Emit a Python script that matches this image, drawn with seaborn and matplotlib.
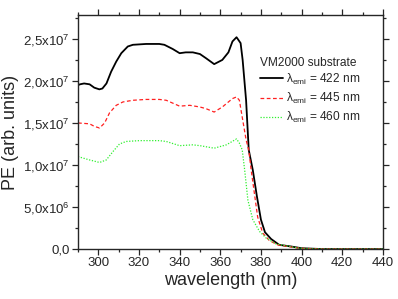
import numpy as np
import pandas as pd
import matplotlib
matplotlib.use("Agg")
import matplotlib.pyplot as plt
import seaborn as sns
from matplotlib.ticker import MultipleLocator, FuncFormatter

# datos (PE en unidades de 1e7)
wl_422 = [290, 291, 293, 295.7, 298, 300.5, 302, 304, 306.3, 308.8, 311.3, 314.5, 317,
          323.5, 330, 332.5, 336.6, 340, 343, 346.5, 350, 353, 357, 361, 364, 366,
          368, 370, 371, 372.7, 374, 376, 378, 380, 382, 385, 389, 395, 400, 410,
          420, 430, 440]
pe_422 = [1.95, 1.96, 1.97, 1.96, 1.92, 1.90, 1.91, 1.97, 2.11, 2.23, 2.33, 2.41, 2.43,
          2.44, 2.44, 2.43, 2.38, 2.33, 2.34, 2.34, 2.32, 2.27, 2.20, 2.25, 2.34, 2.47,
          2.52, 2.45, 2.25, 1.77, 1.18, 0.94, 0.63, 0.35, 0.20, 0.12, 0.05, 0.03, 0.01,
          0.0, 0.0, 0.0, 0.0]

wl_445 = [290, 295.7, 298, 300.6, 303.1, 305.5, 308.8, 312.1, 317, 323.5, 330, 333.4,
          340, 345, 350, 353, 357, 361, 366, 368, 369.4, 371, 372.7, 374, 375.2,
          376.8, 378.4, 380.9, 384.2, 388.3, 399, 410, 420, 430, 440]
pe_445 = [1.50, 1.49, 1.46, 1.44, 1.50, 1.62, 1.71, 1.75, 1.77, 1.78, 1.78, 1.77,
          1.70, 1.71, 1.69, 1.67, 1.63, 1.69, 1.79, 1.81, 1.77, 1.54, 1.30, 1.18, 0.94,
          0.66, 0.38, 0.19, 0.10, 0.05, 0.01, 0.0, 0.0, 0.0, 0.0]

wl_460 = [290, 295.7, 300.6, 303.9, 307.2, 310.4, 313.7, 320.2, 330, 333.4, 340, 346.5,
          350, 357, 363, 368, 369.4, 370.8, 372, 373.6, 376, 379.3, 382.6, 387.5, 399,
          410, 420, 430, 440]
pe_460 = [1.10, 1.06, 1.03, 1.06, 1.16, 1.25, 1.28, 1.29, 1.29, 1.28, 1.23, 1.24,
          1.23, 1.20, 1.24, 1.31, 1.26, 1.18, 0.94, 0.58, 0.35, 0.21, 0.13, 0.06, 0.01,
          0.0, 0.0, 0.0, 0.0]

etiquetas = [r"$\lambda_{\mathregular{emi}}$ = 422 nm",
             r"$\lambda_{\mathregular{emi}}$ = 445 nm",
             r"$\lambda_{\mathregular{emi}}$ = 460 nm"]

sns.set_style("ticks")
plt.rcParams["font.family"] = ["Liberation Sans", "DejaVu Sans"]
plt.rcParams["mathtext.fontset"] = "custom"
plt.rcParams["mathtext.rm"] = "Liberation Sans"
plt.rcParams["mathtext.it"] = "Liberation Sans"
plt.rcParams["mathtext.default"] = "regular"

fig, ax = plt.subplots(figsize=(3.98, 2.99), dpi=100)
fig.subplots_adjust(left=0.196, right=0.962, bottom=0.167, top=0.95)

sns.lineplot(x=wl_422, y=np.array(pe_422) * 1e7, ax=ax, color="black", lw=1.3,
             label=etiquetas[0])
sns.lineplot(x=wl_445, y=np.array(pe_445) * 1e7, ax=ax, color="#ff2020", lw=0.9,
             dashes=False, linestyle=(0, (3, 2)), label=etiquetas[1])
sns.lineplot(x=wl_460, y=np.array(pe_460) * 1e7, ax=ax, color="#30f030", lw=0.9,
             dashes=False, linestyle=(0, (1, 1.3)), label=etiquetas[2])

ax.set_xlim(290, 440)
ax.set_ylim(0, 2.785e7)
ax.xaxis.set_major_locator(MultipleLocator(20))
ax.xaxis.set_minor_locator(MultipleLocator(10))
ax.yaxis.set_major_locator(MultipleLocator(5e6))
ax.yaxis.set_minor_locator(MultipleLocator(2.5e6))


def formato_y(v, pos):
    if v <= 0:
        return "0,0"
    exp = int(np.floor(np.log10(v)))
    man = v / 10 ** exp
    return f"{man:.1f}".replace(".", ",") + "x10$^{" + str(exp) + "}$"


ax.yaxis.set_major_formatter(FuncFormatter(formato_y))
ax.tick_params(which="both", direction="out", top=True, right=True, labelsize=9.5,
               width=0.9, pad=2)
ax.tick_params(which="major", length=4)
ax.tick_params(which="minor", length=2.5)
for s in ax.spines.values():
    s.set_linewidth(1.0)

ax.set_xlabel("wavelength (nm)", fontsize=13, labelpad=2)
ax.set_ylabel("PE (arb. units)", fontsize=13, labelpad=3)

leg = ax.legend(title="VM2000 substrate", frameon=False, loc="upper left",
                bbox_to_anchor=(0.597, 0.822), fontsize=8.6, title_fontsize=8.6,
                handlelength=1.9, handletextpad=0.3, labelspacing=0.35, borderpad=0,
                borderaxespad=0, alignment="left")
leg._legend_box.sep = 2

fig.savefig("out.png", dpi=100)
